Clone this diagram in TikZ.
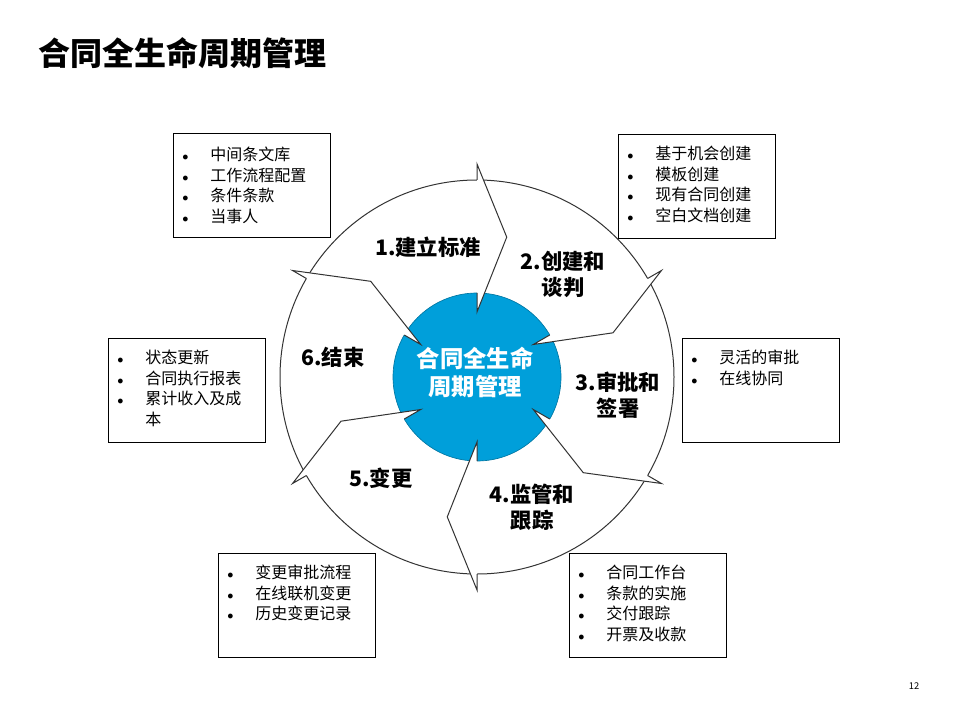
\documentclass[tikz,border=0pt]{standalone}
\usepackage{fontspec}
\setmainfont{Noto Sans CJK SC}
\usetikzlibrary{positioning}
\definecolor{hubblue}{HTML}{009FDA}
\definecolor{ringgray}{HTML}{333333}
\tikzset{
  infobox/.style={draw=black, line width=0.9pt, anchor=north west,
              minimum width=117.75pt, minimum height=78pt, inner sep=0pt},
  listtext/.style={anchor=north west, align=left, inner sep=0pt,
              font=\fontsize{12}{15.4}\selectfont, text=black},
  steplabel/.style={align=center, inner sep=0pt,
              font=\fontsize{16}{19.5}\selectfont\bfseries, text=black},
  hubtext/.style={align=center, inner sep=0pt,
              font=\fontsize{17.5}{21}\selectfont\bfseries, text=white},
  ringedge/.style={draw=ringgray, line width=0.75pt},
}
\newcommand{\listdot}[1]{\makebox[21pt][l]{\fontsize{9}{9}\selectfont$\bullet$}#1}

\begin{document}
\begin{tikzpicture}[x=0.75pt, y=-0.75pt]
  \useasboundingbox[fill=white] (0,0) rectangle (960,720);

  \node[anchor=west, inner sep=0pt, font=\fontsize{24}{28}\selectfont\bfseries] (title) at (38,53) {合同全生命周期管理};

  \node[circle, ringedge, fill=white, minimum size=295.5pt, inner sep=0pt] (ring) at (477,377) {};
  \node[circle, fill=hubblue, draw=hubblue!75!black, line width=0.5pt, minimum size=126pt, inner sep=0pt] (hub) at (477,377) {};

  \begin{scope}[shift={(hub.center)}, x=0.75pt, y=0.75pt]
    \foreach \a in {90,30,-30,-90,-150,150} {
      \fill[white] (\a:213) -- (\a-12:143) -- (\a:65) -- cycle;
      \draw[ringedge] (\a:197) -- (\a:213) -- (\a-12:143) -- (\a:65) -- (\a:84);
    }
  \end{scope}

  \node[hubtext] (hubtxt) at (475,372) {合同全生命\\周期管理};

  \node[steplabel] (s1) at (428,247) {1.建立标准};
  \node[steplabel] (s2) at (563,274) {2.创建和\\谈判};
  \node[steplabel] (s3) at (618,395) {3.审批和\\签署};
  \node[steplabel] (s4) at (532,507) {4.监管和\\跟踪};
  \node[steplabel] (s5) at (381,478) {5.变更};
  \node[steplabel] (s6) at (333,357) {6.结束};

  \node[infobox] (boxA) at (173,133) {};
  \node[listtext] (listA) at ([shift={(9,14)}]boxA.north west)
    {\listdot{中间条文库}\\\listdot{工作流程配置}\\\listdot{条件条款}\\\listdot{当事人}};
  \node[infobox] (boxB) at (618,134) {};
  \node[listtext] (listB) at ([shift={(9,12)}]boxB.north west)
    {\listdot{基于机会创建}\\\listdot{模板创建}\\\listdot{现有合同创建}\\\listdot{空白文档创建}};
  \node[infobox] (boxC) at (682,338) {};
  \node[listtext] (listC) at ([shift={(9,12)}]boxC.north west)
    {\listdot{灵活的审批}\\\listdot{在线协同}};
  \node[infobox] (boxD) at (108,338) {};
  \node[listtext] (listD) at ([shift={(9,12)}]boxD.north west)
    {\listdot{状态更新}\\\listdot{合同执行报表}\\\listdot{累计收入及成}\\\makebox[21pt]{}本};
  \node[infobox] (boxE) at (218,553) {};
  \node[listtext] (listE) at ([shift={(9,12)}]boxE.north west)
    {\listdot{变更审批流程}\\\listdot{在线联机变更}\\\listdot{历史变更记录}};
  \node[infobox] (boxF) at (569,553) {};
  \node[listtext] (listF) at ([shift={(9,12)}]boxF.north west)
    {\listdot{合同工作台}\\\listdot{条款的实施}\\\listdot{交付跟踪}\\\listdot{开票及收款}};

  \node[font=\fontsize{7}{8}\selectfont, inner sep=0pt] (pagenum) at (914,686) {12};
\end{tikzpicture}
\end{document}
